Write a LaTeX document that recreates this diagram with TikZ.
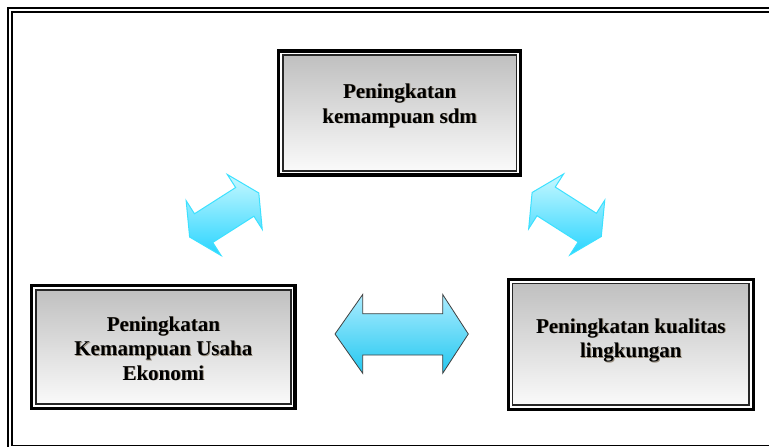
\documentclass[tikz,border=0pt]{standalone}
\usepackage{fontspec}
\setmainfont{Liberation Serif}
\definecolor{boxtop}{RGB}{192,192,192}
\definecolor{boxbot}{RGB}{250,250,250}
\definecolor{diagtop}{RGB}{200,248,255}
\definecolor{diagbot}{RGB}{40,212,255}
\definecolor{arrowedge}{RGB}{60,225,255}
\definecolor{hortop}{RGB}{170,236,255}
\definecolor{horbot}{RGB}{36,200,240}
\definecolor{txtshadow}{RGB}{90,70,40}
\begin{document}
\begin{tikzpicture}[x=1pt,y=-1pt,
  boxstyle/.style={draw=black!85, line width=1.6pt, rectangle, inner sep=0pt, outer sep=0pt, top color=boxtop, bottom color=boxbot},
  outerline/.style={draw=black, line width=3.3pt},
  txt/.style={font=\bfseries\fontsize{21}{25}\selectfont, anchor=base, inner sep=0pt, text=black},
  txtsh/.style={txt, text=txtshadow, text opacity=0.55, xshift=0.9pt, yshift=-0.9pt},
  diagarrow/.style={draw=arrowedge, line width=1pt, top color=diagtop, bottom color=diagbot, line join=miter},
  horarrow/.style={draw=black!75, line width=0.8pt, top color=hortop, bottom color=horbot, line join=miter}
]
\useasboundingbox (0,0) rectangle (769,447);
\clip (0,0) rectangle (769,447);
\fill[white] (0,0) rectangle (769,447);
% outer frame (cut at right and bottom)
\draw[line width=2pt] (7.7,7.7) rectangle (790,460);
\draw[line width=1.5pt] (11.8,11.8) rectangle (785,445.5);

% top box
\node[boxstyle, minimum width=233.6pt, minimum height=115.7pt] (sdm) at (399.65,113) {};
\draw[outerline] ([shift={(-4.2,-4.2)}]sdm.north west) rectangle ([shift={(4.2,4.2)}]sdm.south east);
\node[txtsh] (sdmAs) at (399.65,98) {Peningkatan};
\node[txtsh] (sdmBs) at (399.65,123) {kemampuan sdm};
\node[txt] (sdmA) at (399.65,98) {Peningkatan};
\node[txt] (sdmB) at (399.65,123) {kemampuan sdm};

% left box
\node[boxstyle, minimum width=255pt, minimum height=114.3pt] (eko) at (163.35,347) {};
\draw[outerline] ([shift={(-4.2,-4.2)}]eko.north west) rectangle ([shift={(4.2,4.2)}]eko.south east);
\node[txtsh] (ekoAs) at (163.35,331) {Peningkatan};
\node[txtsh] (ekoBs) at (163.35,355.5) {Kemampuan Usaha};
\node[txtsh] (ekoCs) at (163.35,380) {Ekonomi};
\node[txt] (ekoA) at (163.35,331) {Peningkatan};
\node[txt] (ekoB) at (163.35,355.5) {Kemampuan Usaha};
\node[txt] (ekoC) at (163.35,380) {Ekonomi};

% right box
\node[boxstyle, minimum width=236.6pt, minimum height=121.6pt] (lin) at (630.85,344.35) {};
\draw[outerline] ([shift={(-4.2,-4.2)}]lin.north west) rectangle ([shift={(4.2,4.2)}]lin.south east);
\node[txtsh] (linAs) at (630.85,333) {Peningkatan kualitas};
\node[txtsh] (linBs) at (630.85,357.5) {lingkungan};
\node[txt] (linA) at (630.85,333) {Peningkatan kualitas};
\node[txt] (linB) at (630.85,357.5) {lingkungan};

% horizontal double arrow
\draw[horarrow] (335,334) -- (362.7,294.5) -- (362.7,313.7) -- (442.7,313.7) -- (442.7,294.5) -- (468.3,334)
  -- (442.7,373.3) -- (442.7,355) -- (362.7,355) -- (362.7,373.3) -- cycle;

% left diagonal double arrow
\draw[diagarrow] (258.78,192.97) -- (262.24,229.30) -- (253.91,216.23) -- (212.75,242.45) -- (221.08,255.52)
  -- (189.62,237.03) -- (186.16,200.70) -- (194.49,213.77) -- (235.65,187.55) -- (227.32,174.48) -- cycle;

% right diagonal double arrow
\draw[diagarrow] (532.12,192.47) -- (528.66,228.80) -- (536.99,215.73) -- (578.15,241.95) -- (569.82,255.02)
  -- (601.28,236.53) -- (604.74,200.20) -- (596.41,213.27) -- (555.25,187.05) -- (563.58,173.98) -- cycle;
\end{tikzpicture}
\end{document}
